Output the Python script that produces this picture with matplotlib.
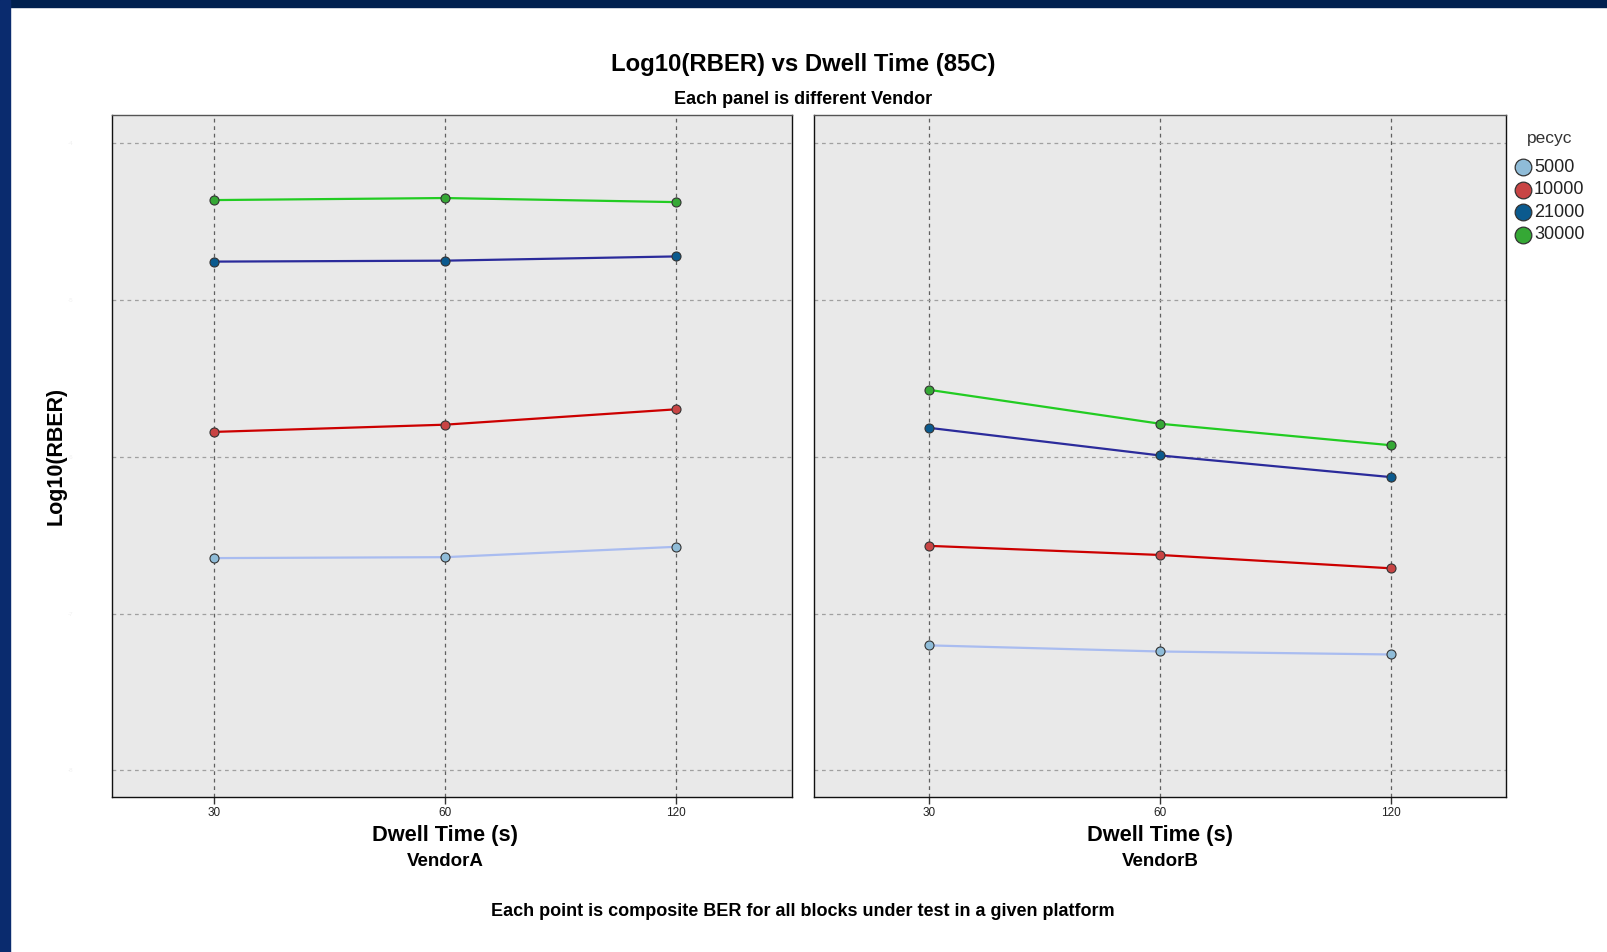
import matplotlib
matplotlib.use("Agg")
import matplotlib.pyplot as plt
from matplotlib.lines import Line2D
from matplotlib.patches import Rectangle

plt.rcParams['font.family'] = ['Liberation Sans', 'DejaVu Sans']

# data (y values are log10 RBER, the axis labels are blanked in the original)
dwell = ['30', '60', '120']
vendors = ['VendorA', 'VendorB']
pecyc = ['5000', '10000', '21000', '30000']
rber = {
    'VendorA': {
        '5000': [-6.647, -6.641, -6.575],
        '10000': [-5.843, -5.797, -5.699],
        '21000': [-4.758, -4.752, -4.725],
        '30000': [-4.366, -4.353, -4.379],
    },
    'VendorB': {
        '5000': [-7.203, -7.242, -7.261],
        '10000': [-6.569, -6.627, -6.712],
        '21000': [-5.817, -5.993, -6.131],
        '30000': [-5.575, -5.791, -5.928],
    },
}
yticks = [-8, -7, -6, -5, -4]

line_col = {'5000': '#a9bcf0', '10000': '#cc0000', '21000': '#2b2b9b', '30000': '#22cc22'}
pt_col = {'5000': '#8fbcd8', '10000': '#c84444', '21000': '#0b5a8e', '30000': '#35a835'}

W, H = 1608, 952
fig = plt.figure(figsize=(W / 100, H / 100), dpi=100)
fig.patch.set_facecolor('white')

# dark blue slide frame on top and left
fig.patches.append(Rectangle((0, 1 - 7 / H), 1, 7 / H, transform=fig.transFigure,
                             color='#00204f', zorder=0))
fig.patches.append(Rectangle((0, 0), 10 / W, 1, transform=fig.transFigure,
                             color='#0a2b6e', zorder=0))


def fx(px):
    return px / W


def fy(py):
    return 1 - py / H


panels = [
    (vendors[0], 112, 792, (-0.4416, 2.502)),
    (vendors[1], 814, 1506, (-0.498, 2.498)),
]
x = list(range(len(dwell)))

for i, (vendor, x0, x1, xl) in enumerate(panels):
    ax = fig.add_axes([fx(x0), fy(797), fx(x1 - x0), (797 - 115) / H])
    ax.set_facecolor('#e9e9e9')
    for key in pecyc:
        ax.plot(x, rber[vendor][key], color=line_col[key], lw=1.6, zorder=3)
        ax.plot(x, rber[vendor][key], 'o', ms=6.5, mfc=pt_col[key], mec='#333333',
                mew=0.8, zorder=4)
    ax.set_xlim(*xl)
    ax.set_ylim(-8.169, -3.824)
    ax.set_xticks(x)
    ax.set_xticklabels(dwell, fontsize=8.5, color='#222222')
    ax.set_yticks(yticks)
    ax.tick_params(axis='x', length=5, width=1, color='#333333', pad=2)
    if i == 0:
        ax.set_yticklabels([str(v) for v in yticks], fontsize=4.5, color='#f0f0f0')
        ax.tick_params(axis='y', length=0, pad=28)
    else:
        ax.set_yticklabels([])
        ax.tick_params(axis='y', length=0)
    ax.grid(axis='y', ls=(0, (3, 3)), color='#a0a0a0', lw=0.9)
    ax.grid(axis='x', ls=(0, (3, 3)), color='#606060', lw=0.9)
    ax.set_axisbelow(True)
    for s in ax.spines.values():
        s.set_color('#111111')
        s.set_linewidth(1.0)
    ax.spines['top'].set_color('#555555')
    tick_mid = x0 + (1 - xl[0]) / (xl[1] - xl[0]) * (x1 - x0)
    fig.text(fx(tick_mid), fy(835), 'Dwell Time (s)', ha='center', va='center',
             fontsize=15.7, fontweight='bold')
    fig.text(fx(tick_mid), fy(862), vendor, ha='center', va='center',
             fontsize=13.5, fontweight='bold')

fig.text(fx(803), fy(65), 'Log10(RBER) vs Dwell Time (85C)', ha='center', va='center',
         fontsize=17.2, fontweight='bold')
fig.text(fx(803), fy(99.5), 'Each panel is different Vendor', ha='center', va='center',
         fontsize=13, fontweight='bold')
fig.text(fx(56), fy(456), 'Log10(RBER)', ha='center', va='center', rotation=90,
         fontsize=15.5, fontweight='bold')
fig.text(fx(803), fy(912), 'Each point is composite BER for all blocks under test in a given platform',
         ha='center', va='center', fontsize=13, fontweight='bold')

# legend
fig.text(fx(1550), fy(138), 'pecyc', ha='center', va='center', fontsize=12.5, color='#333333')
for j, key in enumerate(pecyc):
    yy = 167 + j * 22.6
    fig.add_artist(Line2D([fx(1523)], [fy(yy)], marker='o', ms=12, mfc=pt_col[key],
                          mec='#333333', mew=0.9, transform=fig.transFigure))
    fig.text(fx(1534), fy(yy), key, ha='left', va='center', fontsize=13, color='#222222')

fig.savefig('out.png', dpi=100)
